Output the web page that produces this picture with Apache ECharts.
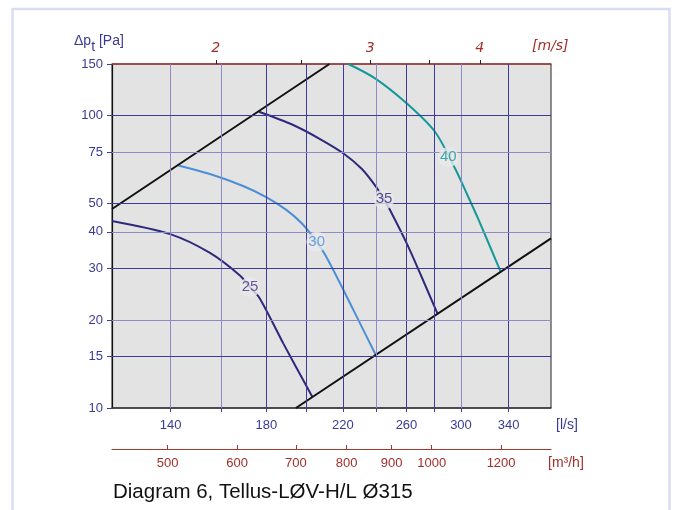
<!DOCTYPE html>
<html>
<head>
<meta charset="utf-8">
<script src="https://cdn.jsdelivr.net/npm/echarts@6/dist/echarts.min.js"></script>
<style>
  html, body { margin: 0; padding: 0; background: #fff; }
  #chart { width: 678px; height: 510px; }
</style>
</head>
<body>
<div id="chart"></div>
<script>
// Axis ranges (log–log diagram)
const flowMin = 120, flowMax = 380;      // l/s
const pressMin = 10, pressMax = 150;     // Pa
const lsPerMs = 78.8;                    // l/s per 1 m/s duct velocity
const m3hPerLs = 3.6;

// Tick sets
const flowLabels = [140, 180, 220, 260, 300, 340];
const flowTicks = [140, 160, 180, 200, 220, 240, 260, 280, 300, 340];
const flowGridLight = [140, 160, 240, 300];
const pressTicks = [10, 15, 20, 30, 40, 50, 75, 100, 150];
const pressGrid = [15, 20, 30, 40, 50, 75, 100];
const pressGridLight = [20, 40, 75];
const velTicks = [2, 2.5, 3, 3.5, 4];
const velLabels = [2, 3, 4];
const m3hTicks = [500, 600, 700, 800, 900, 1000, 1200];

// Fan curves [l/s, Pa]
const curve25 = [[120, 43.6], [139.8, 39.3], [155.2, 33.9], [167.9, 28.4], [172.4, 25.9], [176.9, 23.7], [188.2, 16.6], [203.1, 10.9]];
const curve30 = [[142.8, 67.5], [155.2, 63.1], [169.3, 57.4], [180.1, 52.5], [189.8, 47.5], [197.5, 42.8], [205.4, 37.0], [210.0, 33.4], [218.4, 26.7], [230.1, 19.5], [239.8, 15.2]];
const curve35 = [[176.5, 103.0], [193.1, 92.8], [207.2, 83.1], [220.2, 74.3], [231.3, 65.6], [240.6, 56.5], [245.1, 51.7], [249.0, 47.5], [260.1, 36.6], [269.4, 28.9], [281.9, 21.1]];
const curve40 = [[223.2, 150], [239.4, 134.0], [260.1, 110.1], [280.2, 88.0], [295.3, 66.0], [304.5, 54.2], [314.0, 44.2], [333.0, 29.2]];

// Working-range limits (system lines)
const limitUpper = [[120, 47.9], [212.4, 150]];
const limitLower = [[194.5, 10], [380, 38]];

// Curve tags
const tagNames = ['25', '30', '35', '40'];
const tagPoints = [[172.4, 25.9], [205.4, 37.0], [245.1, 51.7], [290.2, 72.0]];

const NAVY = '#2d2a7c', LIGHTBLUE = '#4b8fd6', TEAL = '#14999a';
const GRID_DARK = '#3d3a98', GRID_LIGHT = '#8e8bc4';
const BLUE_TXT = '#3a3a96', RED_TXT = '#a0302a';
const FONT = '"Liberation Sans", Arial, sans-serif';
const WIDE = '"DejaVu Sans", Verdana, sans-serif';
const tagColors = ['#4a2f8c', LIGHTBLUE, NAVY, TEAL];
const curveColors = [NAVY, LIGHTBLUE, NAVY, TEAL];

const chart = echarts.init(document.getElementById('chart'), null, { renderer: 'canvas' });

const gridLines = [];
flowTicks.forEach(v => gridLines.push({ xAxis: v, lineStyle: { color: flowGridLight.includes(v) ? GRID_LIGHT : GRID_DARK } }));
pressGrid.forEach(v => gridLines.push({ yAxis: v, lineStyle: { color: pressGridLight.includes(v) ? GRID_LIGHT : GRID_DARK } }));

function curveSeries(data, color) {
  return {
    type: 'line', data: data, xAxisIndex: 0, yAxisIndex: 0,
    smooth: 0.3, symbol: 'none', z: 3, silent: true,
    lineStyle: { color: color, width: 2 }
  };
}

chart.setOption({
  animation: false,
  textStyle: { fontFamily: FONT },
  grid: {
    left: 112, right: 127, top: 64, bottom: 102,
    show: true, backgroundColor: '#e3e3e3', borderColor: '#222', borderWidth: 1
  },
  xAxis: [
    {
      type: 'log', min: flowMin, max: flowMax, position: 'bottom',
      axisLine: { show: true, lineStyle: { color: '#3a3a3a', width: 1.5 } },
      axisTick: { show: true, length: 4, customValues: flowTicks, lineStyle: { color: GRID_DARK } },
      axisLabel: { customValues: flowLabels, margin: 11, color: BLUE_TXT, fontSize: 13, fontFamily: FONT },
      splitLine: { show: false }, minorTick: { show: false }
    },
    {
      type: 'log', min: flowMin / lsPerMs, max: flowMax / lsPerMs, position: 'top',
      axisLine: { show: true, onZero: false, lineStyle: { color: '#a33a3a', width: 1.5 } },
      axisTick: { show: true, length: 4, customValues: velTicks, lineStyle: { color: '#222' } },
      axisLabel: { customValues: velLabels, margin: 9, color: RED_TXT, fontSize: 14, fontStyle: 'italic', fontFamily: WIDE },
      splitLine: { show: false }
    },
    {
      type: 'log', min: flowMin * m3hPerLs, max: flowMax * m3hPerLs, position: 'bottom', offset: 41,
      axisLine: { show: true, onZero: false, lineStyle: { color: '#a33a2e', width: 1.2 } },
      axisTick: { show: true, inside: true, length: 4, customValues: m3hTicks, lineStyle: { color: '#a33a2e' } },
      axisLabel: { customValues: m3hTicks, margin: 8, color: RED_TXT, fontSize: 13, fontFamily: FONT,
                   formatter: v => String(v) },
      splitLine: { show: false }
    }
  ],
  yAxis: [
    {
      type: 'log', min: pressMin, max: pressMax,
      axisLine: { show: true, onZero: false, lineStyle: { color: '#111', width: 1.2 } },
      axisTick: { show: true, length: 5, customValues: pressTicks, lineStyle: { color: GRID_DARK } },
      axisLabel: { customValues: pressTicks, margin: 9, color: BLUE_TXT, fontSize: 13, fontFamily: FONT },
      splitLine: { show: false }
    }
  ],
  graphic: [
    { type: 'rect', z: -10, shape: { x: 12.5, y: 9, width: 657, height: 520 },
      style: { fill: 'none', stroke: '#d7ddf2', lineWidth: 2.5 } },
    { type: 'text', left: 113, top: 482,
      style: { text: 'Diagram 6, Tellus-LØV-H/L Ø315', fill: '#111', font: '20.5px ' + FONT } },
    { type: 'text', left: 556, top: 418,
      style: { text: '[l/s]', fill: BLUE_TXT, font: '14px ' + FONT } },
    { type: 'text', left: 548, top: 456,
      style: { text: '[m³/h]', fill: RED_TXT, font: '14px ' + FONT } },
    { type: 'text', left: 532, top: 39,
      style: { text: '[m/s]', fill: RED_TXT, font: 'italic 14px ' + WIDE } },
    { type: 'text', left: 74, top: 34,
      style: {
        text: '{a|Δp}{s|t}{a| [Pa]}',
        rich: {
          a: { fill: BLUE_TXT, font: '14px ' + FONT, verticalAlign: 'top' },
          s: { fill: BLUE_TXT, font: '14px ' + FONT, padding: [6, 0, 0, 0] }
        }
      } }
  ],
  series: [
    {
      type: 'line', data: [], xAxisIndex: 0, yAxisIndex: 0, z: 1, silent: true,
      markLine: {
        silent: true, symbol: 'none', animation: false,
        label: { show: false },
        lineStyle: { type: 'solid', width: 1 },
        data: gridLines
      }
    },
    curveSeries(curve25, curveColors[0]),
    curveSeries(curve30, curveColors[1]),
    curveSeries(curve35, curveColors[2]),
    curveSeries(curve40, curveColors[3]),
    {
      type: 'line', data: limitUpper, symbol: 'none', z: 4, silent: true,
      lineStyle: { color: '#111', width: 2 }
    },
    {
      type: 'line', data: limitLower, symbol: 'none', z: 4, silent: true,
      lineStyle: { color: '#111', width: 2 }
    },
    {
      type: 'scatter', z: 6, silent: true, symbolSize: 1,
      itemStyle: { color: 'rgba(0,0,0,0)' },
      data: tagPoints.map((p, i) => ({
        value: p, name: tagNames[i],
        label: { color: tagColors[i] }
      })),
      label: {
        show: true, position: 'inside', formatter: '{b}',
        fontSize: 15, fontFamily: FONT,
        backgroundColor: '#e9e9e9', borderRadius: 10, padding: [3, 2, 2, 2]
      }
    }
  ]
});
</script>
</body>
</html>
